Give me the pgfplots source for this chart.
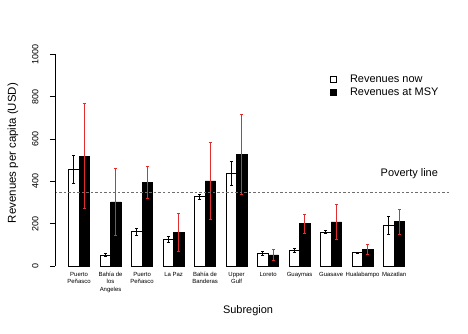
\documentclass[border=0pt]{standalone}
\usepackage{pgfplots}
\pgfplotsset{compat=1.18}
\usepackage{fontspec}
\setmainfont{Liberation Sans}
\definecolor{errred}{RGB}{225,45,45}
\definecolor{povgray}{RGB}{110,110,110}
\begin{document}
\begin{tikzpicture}
\path[use as bounding box] (-55bp,-59.5bp) rectangle (413bp,274.5bp);
\begin{axis}[
  at={(0,0)}, anchor=south west,
  scale only axis, width=394.8bp, height=228.7bp,
  xmin=-0.29, xmax=37.3, ymin=-40, ymax=1040,
  clip=false,
  axis line style={draw=none},
  ytick={0,200,400,600,800,1000},
  ytick pos=left, tick align=outside,
  major tick length=5bp,
  ytick style={black, line width=0.5bp},
  xtick={2,5,8,11,14,17,20,23,26,29,32},
  xtick style={draw=none},
  xticklabels={{Puerto\\Peñasco},{Bahía de\\los\\Angeles},{Puerto\\Peñasco},{La Paz},{Bahía de\\Banderas},{Upper\\Gulf},{Loreto},{Guaymas},{Guasave},{Hualabampo},{Mazatlan}},
  xticklabel style={align=center, anchor=north, font=\fontsize{6}{7.5}\selectfont, yshift=11bp},
  yticklabel style={rotate=90, anchor=south, font=\fontsize{9}{10}\selectfont},
  yticklabel shift=8bp,
  /pgf/number format/1000 sep={},
  /pgf/number format/assume math mode=true,
  xlabel={Subregion},
  ylabel={Revenues per capita (USD)},
  xlabel style={at={(axis description cs:0.489,-0.158)}, anchor=center, font=\fontsize{11}{13}\selectfont},
  ylabel style={at={(axis description cs:-0.1064,0.531)}, anchor=center, font=\fontsize{11.5}{13}\selectfont},
  legend style={draw=none, fill=none, at={(axis description cs:0.697,0.882)}, anchor=north west, font=\fontsize{11}{13}\selectfont, inner sep=0pt, row sep=0pt, /tikz/every odd column/.append style={column sep=11bp}},
  legend cell align=left,
  legend image code/.code={\draw[#1, line width=0.7bp] (0bp,-3bp) rectangle (6bp,3bp);},
]
\addplot[ybar, bar width=1, bar shift=0pt, fill=white, draw=black, line width=0.6bp,
  error bars/.cd, y dir=both, y explicit,
  error bar style={black, line width=0.8bp},
  error mark options={black, line width=0.8bp, mark size=1.6bp, rotate=90}]
coordinates {
(1.5,456) +- (0,65)
(4.5,53) +- (0,7)
(7.5,163) +- (0,16)
(10.5,124) +- (0,14)
(13.5,327) +- (0,12)
(16.5,437) +- (0,55)
(19.5,60) +- (0,8)
(22.5,75) +- (0,10)
(25.5,160) +- (0,6)
(28.5,63) +- (0,3)
(31.5,193) +- (0,42)
};
\addlegendentry{Revenues now}
\addplot[ybar, bar width=1, bar shift=0pt, fill=black, draw=black, line width=0.6bp,
  error bars/.cd, y dir=both, y explicit,
  error bar style={errred, line width=0.8bp},
  error mark options={errred, line width=0.8bp, mark size=1.6bp, rotate=90}]
coordinates {
(2.5,519) +- (0,248)
(5.5,303) +- (0,160)
(8.5,395) +- (0,75)
(11.5,159) +- (0,90)
(14.5,402) +- (0,180)
(17.5,528) +- (0,190)
(20.5,53) +- (0,25)
(23.5,200) +- (0,44)
(26.5,208) +- (0,81)
(29.5,79) +- (0,24)
(32.5,209) +- (0,60)
};
\addlegendentry{Revenues at MSY}
\addplot[povgray, line width=0.7bp, dash pattern=on 2.5bp off 2bp, forget plot] coordinates {(-0.29,350) (37.3,350)};
\draw[black, line width=0.5bp] (axis cs:-0.29,0) -- (axis cs:-0.29,1000);
\node[anchor=east, inner sep=0pt, font=\fontsize{11}{13}\selectfont] at (axis cs:36.19,434) {Poverty line};
\end{axis}
\end{tikzpicture}
\end{document}
